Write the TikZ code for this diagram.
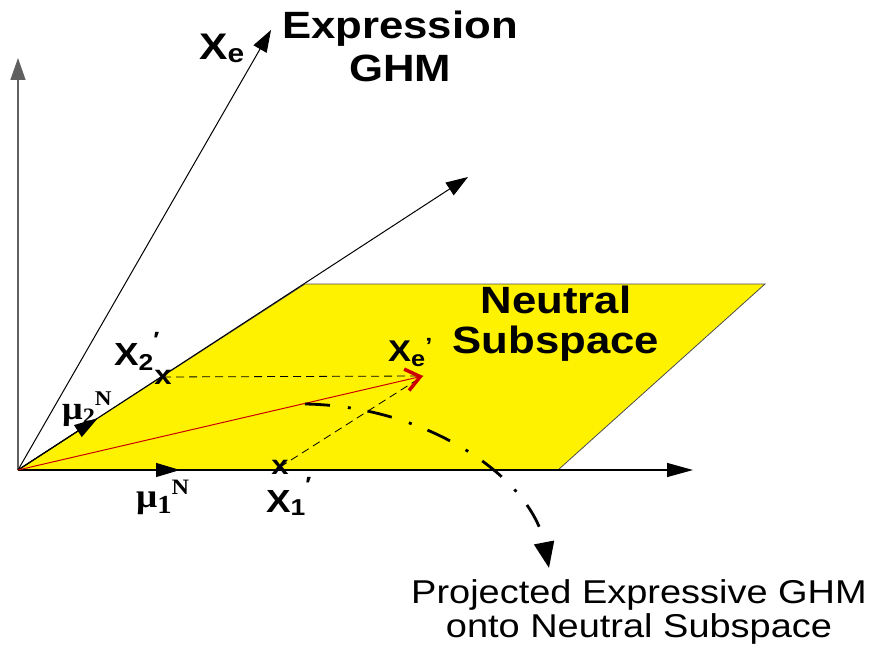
\documentclass[tikz,border=0pt]{standalone}
\usepackage{fontspec}
\setmainfont{Liberation Sans}[FakeStretch=1.15]
\newfontfamily\serifb{Liberation Serif}[FakeStretch=1.1]
\usetikzlibrary{arrows.meta}
\newcommand{\fs}[1]{\fontsize{#1}{#1}\selectfont}
\begin{document}
\begin{tikzpicture}[x=1pt,y=-1pt,
  axis/.style={line width=1pt,-{Triangle[length=22pt,width=15pt]}},
  muarrow/.style={line width=1.2pt,-{Triangle[length=24pt,width=14pt]}},
  dashline/.style={line width=0.8pt,dash pattern=on 8pt off 5pt},
  redarrow/.style={red!80!black,line width=1pt,-{Straight Barb[length=14pt,width=22pt,line width=3.5pt]}},
  dashdot/.style={line width=2.8pt,dash pattern=on 25pt off 18pt on 3pt off 17pt,-{Triangle[length=26pt,width=20pt]}},
  txt/.style={inner sep=0pt,anchor=base},
  lbl/.style={inner sep=0pt,anchor=base west,font=\bfseries},
  markx/.style={inner sep=0pt,font=\bfseries\fs{27}}]
\useasboundingbox (0,0) rectangle (873,655);
\coordinate (O) at (18,470);
\coordinate (V) at (18,58);
\coordinate (E) at (271,30);
\coordinate (D) at (468,177);
\coordinate (H) at (693,470);
\coordinate (P2) at (305,284);
\coordinate (P3) at (765,284);
\coordinate (P4) at (558,470);
\coordinate (X2) at (163,377);
\coordinate (X1) at (280,467);
\coordinate (Xe) at (423,376);
\coordinate (M1) at (180,470);
\coordinate (M2) at (98,418);
\coordinate (C0) at (305,404);
\coordinate (C1) at (549,568);

% neutral subspace plane
\fill[yellow] (O) -- (P2) -- (P3) -- (P4) -- cycle;
\draw[gray!60!black,line width=0.8pt] (O) -- (P2) -- (P3) -- (P4);

% axes
\draw[axis,gray!75!black,line width=1.3pt] (O) -- (V);
\draw[axis] (O) -- (E);
\draw[axis] (O) -- (D);
\draw[axis,line width=1.2pt,-{Triangle[length=26pt,width=14pt]}] (O) -- (H);
\draw[muarrow] (O) -- (M1);
\draw[muarrow] (O) -- (M2);

% projections
\node[markx] (mx2) at (X2) {x};
\node[markx] (mx1) at (X1) {x};
\draw[dashline] (X2) -- (Xe);
\draw[dashline] (X1) -- (Xe);
\draw[redarrow] (O) -- (Xe);
\draw[dashdot] (C0) .. controls (430,406) and (532,480) .. (C1);

% labels
\node[txt,font=\bfseries\fs{38}] (expr1) at (400,39) {Expression};
\node[txt,font=\bfseries\fs{38}] (expr2) at (400,82) {GHM};
\node[txt,font=\bfseries\fs{38}] (neu1) at (556,313) {Neutral};
\node[txt,font=\bfseries\fs{38}] (neu2) at (556,353) {Subspace};
\node[txt,font=\fs{33}] (proj1) at (639,603) {Projected Expressive GHM};
\node[txt,font=\fs{33}] (proj2) at (639,637) {onto Neutral Subspace};

\node[lbl] (lxe) at (199,60) {\fs{37}X\raisebox{-3pt}{\fs{26}e}};
\node[lbl] (lx2) at (114,365) {\fs{32}X\raisebox{-5pt}{\fs{23}2}\raisebox{18pt}{\fs{22}′}};
\node[lbl] (lx1) at (266,512) {\fs{32}X\raisebox{-3pt}{\fs{23}1}\raisebox{20pt}{\fs{22}′}};
\node[lbl] (lxep) at (388,361) {\fs{30}X\raisebox{-5pt}{\fs{22}e}\raisebox{8pt}{\fs{22}’}};
\node[lbl,font=\serifb\bfseries] (lmu2) at (62,419) {\fs{33}μ\raisebox{-4pt}{\fs{22}2}\raisebox{14pt}{\fs{21}N}};
\node[lbl,font=\serifb\bfseries] (lmu1) at (136,507) {\fs{34}μ\raisebox{-6pt}{\fs{26}1}\raisebox{13pt}{\fs{22}N}};
\end{tikzpicture}
\end{document}
